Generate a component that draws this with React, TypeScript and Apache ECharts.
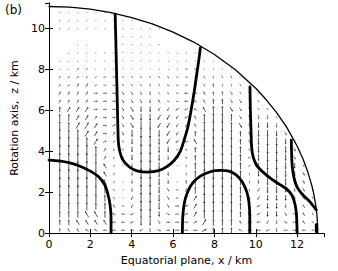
import React, { useEffect, useRef } from "react";
import * as echarts from "echarts";

// axis ranges and ticks (km)
const X_MAX = 13.3;
const Z_MAX = 11.25;
const TICK_STEP = 2;

// spheroid boundary: [x, z]
const boundary: number[][] = [
  [0, 11.08], [1, 11.05], [2, 10.95], [3, 10.78], [4, 10.54], [5, 10.23], [6, 9.83],
  [7, 9.34], [8, 8.73], [9, 8.0], [10, 7.08], [10.5, 6.53], [11, 5.9], [11.5, 5.17],
  [12, 4.26], [12.3, 3.59], [12.5, 3.04], [12.7, 2.37], [12.8, 1.94], [12.9, 1.37],
  [12.95, 0.97], [12.99, 0.44], [13, 0],
];

// thick contour lines: [x, z]
const contourA: number[][] = [
  [0, 3.57], [0.5, 3.53], [1.0, 3.43], [1.5, 3.27], [2.0, 3.03], [2.4, 2.75], [2.7, 2.35],
  [2.85, 1.9], [2.95, 1.4], [3.0, 0.8], [3.0, 0],
];
const contourB: number[][] = [
  [3.2, 10.7], [3.23, 9.5], [3.26, 8.2], [3.3, 6.5], [3.33, 5.2], [3.37, 4.3], [3.55, 3.62],
  [3.9, 3.22], [4.3, 3.03], [4.75, 2.98], [5.3, 3.05], [5.7, 3.25], [6.05, 3.55], [6.35, 4.0],
  [6.55, 4.6], [6.72, 5.2], [6.88, 6.05], [7.02, 6.9], [7.15, 7.8], [7.25, 8.5], [7.32, 9.05],
];
const contourC: number[][] = [
  [6.45, 0], [6.47, 0.8], [6.55, 1.5], [6.7, 2.0], [6.95, 2.45], [7.3, 2.77], [7.8, 3.0],
  [8.3, 3.07], [8.7, 3.03], [9.05, 2.85], [9.35, 2.5], [9.57, 2.0], [9.67, 1.5], [9.71, 0.8], [9.71, 0],
];
const contourD: number[][] = [
  [9.72, 7.15], [9.74, 6.0], [9.77, 5.0], [9.8, 4.2], [9.88, 3.7], [10.05, 3.3], [10.35, 2.98],
  [10.75, 2.65], [11.15, 2.38], [11.5, 2.15], [11.75, 1.85], [11.9, 1.4], [11.97, 0.9], [12.0, 0],
];
const contourE: number[][] = [
  [11.72, 4.55], [11.73, 4.0], [11.76, 3.3], [11.85, 2.7], [12.0, 2.25], [12.25, 1.9],
  [12.6, 1.55], [12.93, 1.13],
];
const contourF: number[][] = [[12.93, 0.08], [12.93, 0.42]];

// quiver grid: columns x = X0 + k*DX, rows z = Z0 + m*DZ
const QX0 = 0.52;
const QDX = 0.437;
const QZ0 = 0.14;
const QDZ = 0.394;
// each cell: magnitude digit (0 = dot) + direction letter (A=0°, B=30°, ... L=330°)
// rows from top (z = 10.78) to bottom (z = 0.14)
const quiverRows: string[] = [
  "0D 0D 0D 0D 0D 0D",
  "0D 0D 0D 0D 0D 0D 0D 0D 0D 0D",
  "0D 0D 0D 0D 0D 0D 0D 0D 1K 1K 0D 0D",
  "0D 0D 0D 0D 0D 0D 0D 1K 1K 1K 1K 0D 0D 0D",
  "0D 0D 1C 1C 0D 0D 0D 1K 1K 1K 1K 1K 0D 0D 0D 0D",
  "0D 1C 1C 1C 1B 1A 1A 1K 1K 1K 1K 1K 1K 1E 1G 1G 0D",
  "1C 1C 1C 1C 1B 1A 1A 1K 1K 1K 1K 1K 1E 1E 1G 1G 1E 1E 1K",
  "1C 1C 2C 2C 1B 1A 1A 1K 1K 1K 1K 1E 1E 1E 2G 2G 1E 1D 1K 1K",
  "2C 2C 2C 2C 2B 2A 2A 2K 2K 2K 2K 2E 2E 2F 2G 2G 2E 2D 2K 2K 1K",
  "2C 2C 3C 3C 2B 2A 2A 2K 2K 2K 2J 2E 2F 2G 2G 2G 2E 3D 2D 2K 2K 1K",
  "3C 3C 3C 3C 3A 3A 3A 3K 3K 3K 3J 2E 2E 2F 3G 3G 3E 3D 3D 3K 2K 2K 1K",
  "3C 3C 3C 3C 3A 3A 3A 3K 3K 3K 3J 3E 2F 2G 3G 3F 3E 4D 4D 3K 3K 2K 2K 1K",
  "4D 4C 4C 4C 3A 3A 3A 3K 4K 4J 4J 3I 3I 3H 3H 3F 4E 5D 5D 4K 3K 3K 2K 2K",
  "5D 5D 4C 4C 3C 3A 3A 3K 4K 5J 5J 4I 4I 3I 3H 3E 5D 6D 6D 5D 3K 3K 3J 3J 2K",
  "6D 5D 5C 5C 4C 3A 3B 3K 4K 6J 6J 4I 4I 3I 3I 3E 6D 7D 7D 5D 4K 3K 4J 4J 3J 2K",
  "7D 6D 6D 5C 4C 3A 3C 3K 5J 6J 6J 5J 4I 3I 3I 4D 6D 7D 7D 6D 4D 3K 5J 5J 4J 3K",
  "7D 7D 6D 6D 5C 3B 2C 2J 4J 7J 7J 5J 4I 3H 3G 4E 6D 7D 7D 6D 4D 3K 5J 6J 6J 4J 2K",
  "7D 7D 7D 7D 5D 3C 2D 2J 4J 7J 7J 5J 4J 2H 2F 4D 7D 7D 7D 6D 5D 2L 5J 6J 6J 5J 3K",
  "7D 7D 7D 7D 6D 3C 2D 2J 4J 7J 7J 5J 3J 2G 2E 4D 7D 7D 7D 7D 5D 2A 5J 6J 6J 5J 3K",
  "7D 7D 7D 7D 6D 4E 2D 1J 3J 7J 7J 5J 3J 1G 2D 5D 7D 7D 7D 7D 5D 2B 4J 6J 6J 5J 4J 2K",
  "7D 7D 7D 7D 6D 4E 2D 0D 3J 7J 7J 5J 3J 0D 2D 5D 7D 7D 7D 7D 5D 2D 4J 6J 6J 5J 4J 3K",
  "7D 7D 7D 7D 6D 4E 2D 0D 3J 7J 7J 5J 3J 1A 3D 5D 7D 7D 7D 7D 5D 2D 3J 5J 5J 5J 3J 3K",
  "7D 7D 7D 6D 6D 5D 2E 1J 3J 7J 7J 5J 3K 2A 3C 5D 7D 7D 7D 7D 5D 2D 3I 5J 5J 4J 3J 3K 2K",
  "6D 6D 6D 6D 6D 5D 2E 1H 3I 7J 7J 5J 3K 2A 3C 4C 7D 7D 7D 7D 5D 2E 3I 4J 4J 4J 3J 3E 2E",
  "6D 6D 6D 6D 5D 5D 3E 2G 3I 7J 7J 5J 3K 3A 3B 4C 7D 7D 7D 7D 5D 3E 3H 4J 4J 3J 3J 3E 2E",
  "5D 5D 5D 5E 5E 5D 3F 3G 3H 6J 6J 4J 3L 3A 3B 4C 6D 6D 6D 6D 4D 3F 3H 4J 4J 3K 3L 3E 2E",
  "4D 4D 4E 4E 4E 4E 3G 3G 3H 5J 5J 3K 3A 3A 3A 3B 5C 5D 5D 5D 3E 3G 3G 3I 3J 3L 3A 3E 2F",
  "3D 3E 3E 3F 3F 3G 3G 3G 3G 3H 3J 3L 3A 3A 3A 3A 4B 4D 4D 4D 3F 3G 3G 3H 3J 3A 3A 3G 2G",
];

function buildQuiver(): number[][] {
  const out: number[][] = [];
  const nRows = quiverRows.length;
  quiverRows.forEach((row, r) => {
    const m = nRows - 1 - r;
    const z = QZ0 + QDZ * m;
    row.trim().split(/\s+/).forEach((cell, k) => {
      const x = QX0 + QDX * k;
      if ((x / 13.05) ** 2 + (z / 11.1) ** 2 > 1.0) return;
      const mag = parseInt(cell[0], 10);
      const ang = (cell.charCodeAt(1) - 65) * 30;
      out.push([x, z, mag, ang]);
    });
  });
  return out;
}

const FONT = "DejaVu Sans";

export default function App() {
  const ref = useRef<HTMLDivElement>(null);
  useEffect(() => {
    if (!ref.current) return;
    const chart = echarts.init(ref.current, undefined, { renderer: "svg" });
    const quiver = buildQuiver();
    const lbl = (v: number) => (Math.abs(v % TICK_STEP) < 1e-6 ? String(v) : "");
    const axisCommon = {
      type: "value" as const,
      interval: TICK_STEP,
      axisLine: { show: true, lineStyle: { color: "#000", width: 1 } },
      axisTick: { show: true, inside: true, length: 4, lineStyle: { color: "#000", width: 1 } },
      splitLine: { show: false },
    };
    const lineSeries = (data: number[][], width = 2.8) => ({
      type: "line",
      data,
      showSymbol: false,
      symbol: "none",
      smooth: 0.25,
      silent: true,
      z: 5,
      lineStyle: { color: "#000", width, cap: "round" },
    });
    chart.setOption({
      animation: false,
      grid: { left: 49, right: 14, top: 3, bottom: 36, containLabel: false },
      xAxis: [
        {
          ...axisCommon,
          min: 0,
          max: X_MAX,
          position: "bottom",
          name: "Equatorial plane, x / km",
          nameLocation: "middle",
          nameGap: 21,
          nameTextStyle: { fontFamily: FONT, fontSize: 11, color: "#000" },
          axisLabel: { formatter: lbl, fontFamily: FONT, fontSize: 11, color: "#000", margin: 6, showMaxLabel: false },
        },
        {
          ...axisCommon,
          min: 0,
          max: X_MAX,
          position: "top",
          axisLabel: { show: false },
        },
      ],
      yAxis: [
        {
          ...axisCommon,
          min: 0,
          max: Z_MAX,
          position: "left",
          name: "Rotation axis,  z / km",
          nameLocation: "middle",
          nameGap: 24,
          nameRotate: 90,
          nameTextStyle: { fontFamily: FONT, fontSize: 11, color: "#000" },
          axisLabel: { formatter: lbl, fontFamily: FONT, fontSize: 11, color: "#000", margin: 4, showMaxLabel: false },
        },
        {
          ...axisCommon,
          min: 0,
          max: Z_MAX,
          position: "right",
          axisLabel: { show: false },
        },
      ],
      graphic: [
        {
          type: "text",
          left: 5,
          top: 4,
          style: { text: "(b)", fontFamily: FONT, fontSize: 12, fill: "#000" },
        },
      ],
      series: [
        {
          type: "custom",
          silent: true,
          z: 2,
          data: quiver,
          encode: { x: 0, y: 1 },
          renderItem: (_params: any, api: any) => {
            const x = api.value(0);
            const z = api.value(1);
            const mag = api.value(2);
            const ang = api.value(3);
            const c = api.coord([x, z]);
            if (mag === 0) {
              return { type: "circle", shape: { cx: c[0], cy: c[1], r: 0.6 }, style: { fill: "#999" } };
            }
            const L = mag * 1.45;
            const t = (ang * Math.PI) / 180;
            const ux = Math.cos(t);
            const uy = -Math.sin(t);
            const sx = c[0] - (ux * L) / 2;
            const sy = c[1] - (uy * L) / 2;
            const ex = c[0] + (ux * L) / 2;
            const ey = c[1] + (uy * L) / 2;
            const h = Math.min(2.0, L * 0.45);
            const w = h * 0.5;
            const bx = ex - ux * h;
            const by = ey - uy * h;
            const col = mag >= 4 ? "#222" : "#555";
            return {
              type: "group",
              children: [
                { type: "line", shape: { x1: sx, y1: sy, x2: bx, y2: by }, style: { stroke: col, lineWidth: 0.75 } },
                {
                  type: "polygon",
                  shape: { points: [[ex, ey], [bx - uy * w, by + ux * w], [bx + uy * w, by - ux * w]] },
                  style: { fill: col },
                },
              ],
            };
          },
        },
        { ...lineSeries(boundary, 1.3), smooth: false },
        lineSeries(contourA),
        lineSeries(contourB),
        lineSeries(contourC),
        lineSeries(contourD),
        lineSeries(contourE),
        { ...lineSeries(contourF, 3), smooth: false },
      ],
    });
    return () => chart.dispose();
  }, []);
  return (
    <div
      ref={ref}
      style={{ position: "fixed", left: 0, top: 0, width: 338, height: 271, background: "#fff" }}
    />
  );
}
